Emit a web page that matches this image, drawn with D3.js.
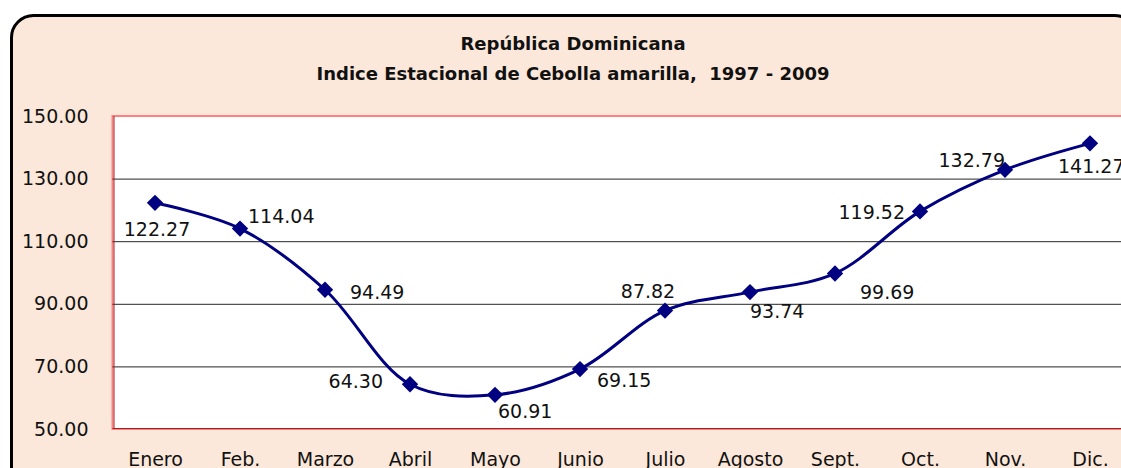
<!DOCTYPE html>
<html>
<head>
<meta charset="utf-8">
<script src="https://cdn.jsdelivr.net/npm/d3@7"></script>
<style>
  html, body { margin: 0; padding: 0; background: #fff; overflow: hidden; }
  svg text { font-family: "DejaVu Sans", sans-serif; white-space: pre; }
</style>
</head>
<body>
<div id="chart"></div>
<script>
// seasonal index, onion, Dominican Republic 1997-2009
const months = ['Enero', 'Feb.', 'Marzo', 'Abril', 'Mayo', 'Junio', 'Julio', 'Agosto', 'Sept.', 'Oct.', 'Nov.', 'Dic.'];
const indexValues = [122.27, 114.04, 94.49, 64.30, 60.91, 69.15, 87.82, 93.74, 99.69, 119.52, 132.79, 141.27];
const yTicks = [50, 70, 90, 110, 130, 150];
const titleLines = ['República Dominicana', 'Indice Estacional de Cebolla amarilla,  1997 - 2009'];

// where each data label sits relative to its marker (anchor, dx, dy)
const labelPlace = [
  ['middle', 2, 33], ['start', 8, -6], ['start', 25, 9], ['end', -27, 4],
  ['start', 3, 23], ['start', 17, 18], ['middle', -17, -13], ['start', 0, 26],
  ['start', 25, 26], ['end', -15, 8], ['end', 0, -3], ['start', -32, 30]
];

const W = 1160, H = 500;
const plot = { left: 112.5, right: 1132.5, top: 116, bottom: 429 };
const fs = 19;

const svg = d3.select('#chart').append('svg')
  .attr('width', W).attr('height', H);

// outer chart area
svg.append('rect')
  .attr('x', 11.5).attr('y', 15.5)
  .attr('width', 1125).attr('height', 480)
  .attr('rx', 22).attr('ry', 22)
  .attr('fill', '#fce8da')
  .attr('stroke', '#000').attr('stroke-width', 3);

const x = d3.scalePoint().domain(months).range([plot.left, plot.right]).padding(0.5);
const y = d3.scaleLinear().domain([50, 150]).range([plot.bottom, plot.top]);

// plot area
svg.append('rect')
  .attr('x', plot.left).attr('y', plot.top)
  .attr('width', plot.right - plot.left).attr('height', plot.bottom - plot.top)
  .attr('fill', '#fff')
  .attr('stroke', '#ff8080').attr('stroke-width', 2);

// gridlines
svg.append('g')
  .selectAll('line')
  .data(yTicks.filter(t => t > 50 && t < 150))
  .join('line')
  .attr('x1', plot.left).attr('x2', plot.right)
  .attr('y1', d => y(d) + 0.5).attr('y2', d => y(d) + 0.5)
  .attr('stroke', '#000').attr('stroke-width', 1).attr('opacity', 0.85);

// axis lines
svg.append('line')
  .attr('x1', plot.left + 1.5).attr('x2', plot.left + 1.5)
  .attr('y1', plot.top).attr('y2', plot.bottom)
  .attr('stroke', '#a02020').attr('stroke-width', 1);
svg.append('line')
  .attr('x1', plot.left).attr('x2', plot.right)
  .attr('y1', plot.bottom - 0.5).attr('y2', plot.bottom - 0.5)
  .attr('stroke', '#a02020').attr('stroke-width', 1);

// y axis
const yAxis = svg.append('g')
  .attr('transform', `translate(${plot.left - 24},0)`)
  .call(d3.axisLeft(y).tickValues(yTicks).tickFormat(d3.format('.2f')).tickSize(0).tickPadding(0));
yAxis.select('.domain').remove();
yAxis.selectAll('text')
  .attr('font-size', fs).attr('fill', '#111')
  .attr('font-family', '"DejaVu Sans", sans-serif');

// x axis
const xAxis = svg.append('g')
  .attr('transform', `translate(0,${plot.bottom})`)
  .call(d3.axisBottom(x).tickSize(0).tickPadding(24));
xAxis.select('.domain').remove();
xAxis.selectAll('text')
  .attr('font-size', fs).attr('fill', '#111')
  .attr('font-family', '"DejaVu Sans", sans-serif');

// title
svg.append('g').selectAll('text')
  .data(titleLines)
  .join('text')
  .attr('x', 573).attr('y', (d, i) => 50 + i * 30)
  .attr('text-anchor', 'middle')
  .attr('font-size', 18).attr('font-weight', 'bold').attr('fill', '#111')
  .text(d => d);

const pts = months.map((m, i) => ({ m, v: indexValues[i], i }));

// smoothed line
svg.append('path')
  .datum(pts)
  .attr('fill', 'none')
  .attr('stroke', '#000080').attr('stroke-width', 3)
  .attr('d', d3.line().x(d => x(d.m)).y(d => y(d.v)).curve(d3.curveCatmullRom.alpha(0.5)));

// diamond markers
svg.append('g').selectAll('path')
  .data(pts)
  .join('path')
  .attr('transform', d => `translate(${x(d.m)},${y(d.v)})`)
  .attr('d', d3.symbol(d3.symbolDiamond2, 170)())
  .attr('fill', '#000080');

// data labels
svg.append('g').selectAll('text')
  .data(pts)
  .join('text')
  .attr('x', d => x(d.m) + labelPlace[d.i][1])
  .attr('y', d => y(d.v) + labelPlace[d.i][2])
  .attr('text-anchor', d => labelPlace[d.i][0])
  .attr('font-size', fs).attr('fill', '#111')
  .text(d => d3.format('.2f')(d.v));
</script>
</body>
</html>
